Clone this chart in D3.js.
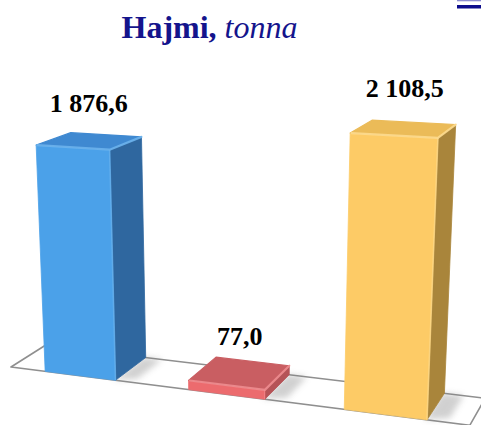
<!DOCTYPE html>
<html>
<head>
<meta charset="utf-8">
<script src="https://cdn.jsdelivr.net/npm/d3@7"></script>
<style>
  html, body { margin: 0; padding: 0; background: #ffffff; }
  svg { display: block; }
</style>
</head>
<body>
<svg id="chart" width="481" height="425"></svg>
<script>
// ---- data ----
const categories = ["1", "2", "3"];
const values = [1876.6, 77.0, 2108.5];
const frontColors = ["#4ba1e9", "#ec6b6e", "#fdcb66"];
const sideColors = ["#2f679f", "#b55357", "#a9853b"];
const topColors = ["#3f89d1", "#c95e62", "#ebbb58"];
const rimColors = ["#72b8f0", "#f39396", "#ffdf96"];
const titleBold = "Hajmi,";
const titleItalic = "tonna";

// ---- number format: space thousands, comma decimals ----
const locale = d3.formatLocale({ decimal: ",", thousands: "\u00a0", grouping: [3], currency: ["", ""] });
const fmt = locale.format(",.1f");

// ---- perspective camera (homogeneous projection of floor x, height y, depth z) ----
const cam = {
  origin: [11, 367, 1],
  ex: [0.99688, 0.02301, -0.0002834],
  ey: [-0.04668, -1.02365, -0.0001945],
  ez: [36.08, -5.55, 0.04626]
};
function project(x, y, z) {
  const h = [0, 1, 2].map(i => cam.origin[i] + x * cam.ex[i] + y * cam.ey[i] + z * cam.ez[i]);
  return [h[0] / h[2], h[1] / h[2]];
}

// ---- scales ----
const floorWidth = 406;
const xScale = d3.scaleBand().domain(categories).range([0, floorWidth])
  .paddingInner(0.5).paddingOuter(0.25);
const yScale = d3.scaleLinear().domain([0, 2500]).range([0, 300]);

const svg = d3.select("#chart");
const defs = svg.append("defs");
defs.append("filter").attr("id", "soft").attr("x", "-50%").attr("y", "-50%")
  .attr("width", "200%").attr("height", "200%")
  .append("feGaussianBlur").attr("stdDeviation", 3);
defs.append("filter").attr("id", "edge").attr("x", "-20%").attr("y", "-20%")
  .attr("width", "140%").attr("height", "140%")
  .append("feGaussianBlur").attr("stdDeviation", 0.6);

const line = pts => "M" + pts.map(p => p.join(",")).join("L") + "Z";

// ---- floor ----
svg.append("path")
  .attr("d", line([project(0, 0, 0), project(floorWidth, 0, 0), project(floorWidth, 0, 1), project(0, 0, 1)]))
  .attr("fill", "#ffffff")
  .attr("stroke", "#8f8f8f")
  .attr("stroke-width", 1.6)
  .attr("stroke-linejoin", "round");

// ---- bars ----
const bars = categories.map((c, i) => {
  const x0 = xScale(c), x1 = x0 + xScale.bandwidth(), h = yScale(values[i]);
  return { i, x0, x1, h, value: values[i] };
});

// soft floor shadows beside each bar
svg.append("g").selectAll("path").data(bars).join("path")
  .attr("d", d => line([project(d.x1 - 2, 0, 0), project(d.x1 + 16, 0, 0.15),
                        project(d.x1 + 16, 0, 1), project(d.x1 - 2, 0, 1)]))
  .attr("fill", "#7a7a7a").attr("opacity", 0.35).attr("filter", "url(#soft)");

const g = svg.append("g").selectAll("g").data(bars).join("g");

// right side face
g.append("path")
  .attr("d", d => line([project(d.x1, 0, 0), project(d.x1, 0, 1), project(d.x1, d.h, 1), project(d.x1, d.h, 0)]))
  .attr("fill", d => sideColors[d.i])
  .attr("stroke", d => sideColors[d.i]).attr("stroke-width", 0.8).attr("stroke-linejoin", "round");

// front face
g.append("path")
  .attr("d", d => line([project(d.x0, 0, 0), project(d.x1, 0, 0), project(d.x1, d.h, 0), project(d.x0, d.h, 0)]))
  .attr("fill", d => frontColors[d.i])
  .attr("stroke", d => frontColors[d.i]).attr("stroke-width", 0.8).attr("stroke-linejoin", "round");

// top face
g.append("path")
  .attr("d", d => line([project(d.x0, d.h, 0), project(d.x1, d.h, 0), project(d.x1, d.h, 1), project(d.x0, d.h, 1)]))
  .attr("fill", d => topColors[d.i])
  .attr("stroke", d => topColors[d.i]).attr("stroke-width", 1.2).attr("stroke-linejoin", "round");

// bevel highlights along the top and vertical edges
g.append("path")
  .attr("d", d => {
    const a = project(d.x0 + 1, d.h, 0), b = project(d.x1, d.h, 0), c2 = project(d.x1, d.h, 1);
    return "M" + a.join(",") + "L" + b.join(",") + "L" + c2.join(",");
  })
  .attr("fill", "none")
  .attr("stroke", d => rimColors[d.i]).attr("stroke-width", 2.2)
  .attr("stroke-linejoin", "round").attr("stroke-linecap", "round")
  .attr("opacity", 0.8).attr("filter", "url(#edge)");

g.append("path")
  .attr("d", d => {
    const a = project(d.x1, d.h, 0), b = project(d.x1, 0, 0);
    return "M" + a.join(",") + "L" + b.join(",");
  })
  .attr("fill", "none")
  .attr("stroke", d => rimColors[d.i]).attr("stroke-width", 1.6)
  .attr("opacity", 0.55).attr("filter", "url(#edge)");

// ---- value labels ----
const labelLift = 28;
svg.append("g").selectAll("text").data(bars).join("text")
  .attr("x", d => project((d.x0 + d.x1) / 2, d.h + labelLift, 0.5)[0])
  .attr("y", d => project((d.x0 + d.x1) / 2, d.h + labelLift, 0.5)[1])
  .attr("text-anchor", "middle")
  .attr("font-family", "'Liberation Serif', 'Times New Roman', serif")
  .attr("font-weight", "bold")
  .attr("font-size", 26)
  .attr("fill", "#000000")
  .text(d => fmt(d.value));

// ---- title ----
const title = svg.append("text")
  .attr("x", 209.5).attr("y", 38)
  .attr("text-anchor", "middle")
  .attr("font-family", "'Liberation Serif', 'Times New Roman', serif")
  .attr("font-size", 32)
  .attr("fill", "#14148c");
title.append("tspan").attr("font-weight", "bold").text(titleBold);
title.append("tspan").attr("font-style", "italic").text(" " + titleItalic);

// ---- clipped link marker at the top right corner ----
svg.append("rect").attr("x", 457).attr("y", 0).attr("width", 24).attr("height", 1.3).attr("fill", "#8c8cd0");
svg.append("rect").attr("x", 457).attr("y", 5).attr("width", 24).attr("height", 3.5).attr("fill", "#0c0c8c");
</script>
</body>
</html>
